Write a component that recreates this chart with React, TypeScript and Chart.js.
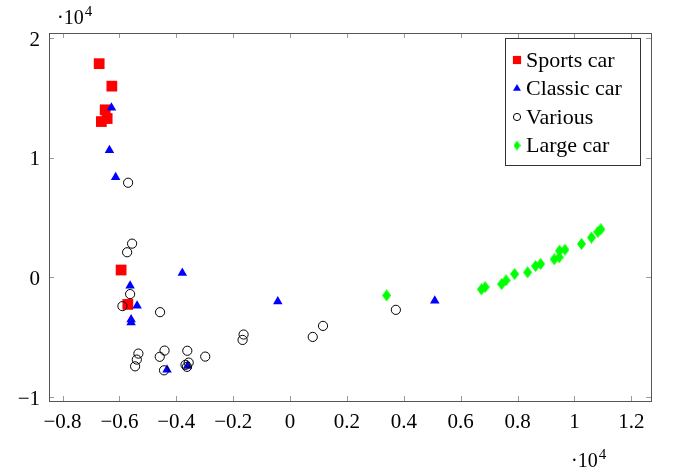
import React, { useEffect, useRef } from 'react';
import { Chart, registerables } from 'chart.js';
import { drawPoint } from 'chart.js/helpers';

Chart.register(...registerables);

// ---- data (values in raw units; axes show them ×10^4) ----
const sportsCar: [number, number][] = [
  [-6713, 17877], [-6267, 15998], [-6502, 14018], [-6432, 13288],
  [-6636, 13036], [-5941, 621], [-5706, -2257],
];
const classicCar: [number, number][] = [
  [-6281, 14186], [-6351, 10629], [-6134, 8381], [-3790, 369],
  [-5625, -696], [-5379, -2374], [-5590, -3515], [-5590, -3767],
  [-4327, -7726], [-3607, -7407], [-432, -2005], [5088, -1955],
];
const various: [number, number][] = [
  [-5695, 7919], [-5555, 2827], [-5730, 2106], [-5625, -1393],
  [-5895, -2399], [-4572, -2903], [-5334, -6367], [-5390, -6871],
  [-5450, -7433], [-4414, -6116], [-4583, -6636], [-4432, -7768],
  [-3614, -6132], [-3677, -7307], [-3565, -7122], [-3625, -7475],
  [-2983, -6619], [-1635, -4773], [-1670, -5226], [797, -4975],
  [1158, -4052], [3720, -2710],
];
const largeCar: [number, number][] = [
  [3393, -1502], [6727, -998], [6857, -805], [7439, -554],
  [7594, -243], [7895, 285], [8351, 428], [8632, 956],
  [8808, 1124], [9288, 1518], [9464, 1686], [9474, 2240],
  [9664, 2324], [10246, 2802], [10597, 3330], [10822, 3809],
  [10927, 4035],
];
const seriesNames = ['Sports car', 'Classic car', 'Various', 'Large car'];
const xTicks = [-8000, -6000, -4000, -2000, 0, 2000, 4000, 6000, 8000, 10000, 12000];
const yTicks = [-10000, 0, 10000, 20000];
const xRange = [-8477, 12691];
const yRange = [-10333, 20442];
const scaleExponent = '4';

const FONT = '"Liberation Serif", "Times New Roman", serif';

function fmt(v: number): string {
  const r = Math.round(v / 1000) / 10;
  if (r === 0) return '0';
  return String(r).replace('-', '\u2212');
}

function makeDiamond(w: number, h: number, color: string): HTMLCanvasElement {
  const c = document.createElement('canvas');
  c.width = w;
  c.height = h;
  const ctx = c.getContext('2d')!;
  ctx.fillStyle = color;
  ctx.beginPath();
  ctx.moveTo(w / 2, 0);
  ctx.lineTo(w, h / 2);
  ctx.lineTo(w / 2, h);
  ctx.lineTo(0, h / 2);
  ctx.closePath();
  ctx.fill();
  return c;
}

const framePlugin = {
  id: 'frameTicks',
  afterDatasetsDraw(chart: any) {
    const { ctx, chartArea } = chart;
    const { left, right, top, bottom } = chartArea;
    const xs = chart.scales.x;
    const ys = chart.scales.y;
    ctx.save();
    ctx.strokeStyle = '#9a9a9a';
    ctx.lineWidth = 1;
    const L = 5;
    ctx.beginPath();
    for (const v of xTicks) {
      const px = Math.round(xs.getPixelForValue(v)) + 0.5;
      ctx.moveTo(px, bottom);
      ctx.lineTo(px, bottom - L);
      ctx.moveTo(px, top);
      ctx.lineTo(px, top + L);
    }
    for (const v of yTicks) {
      const py = Math.round(ys.getPixelForValue(v)) + 0.5;
      ctx.moveTo(left, py);
      ctx.lineTo(left + L, py);
      ctx.moveTo(right, py);
      ctx.lineTo(right - L, py);
    }
    ctx.stroke();
    ctx.strokeStyle = '#555';
    ctx.lineWidth = 1;
    ctx.strokeRect(Math.round(left) + 0.5, Math.round(top) + 0.5, Math.round(right - left), Math.round(bottom - top));
    ctx.restore();
  },
};

function makeLegendPlugin(styles: any[]) {
  return {
    id: 'boxLegend',
    afterDraw(chart: any) {
      const { ctx } = chart;
      const bx = 505.5, by = 38.5, bw = 135, bh = 127;
      ctx.save();
      ctx.fillStyle = '#fff';
      ctx.fillRect(bx, by, bw, bh);
      ctx.strokeStyle = '#333';
      ctx.lineWidth = 1;
      ctx.strokeRect(bx, by, bw, bh);
      chart.data.datasets.forEach((ds: any, i: number) => {
        const cy = 60 + i * 28.5;
        const st = styles[i];
        ctx.fillStyle = ds.backgroundColor;
        ctx.strokeStyle = ds.borderColor || ds.backgroundColor;
        ctx.lineWidth = ds.borderWidth || 0;
        drawPoint(ctx, { pointStyle: st.pointStyle, radius: st.radius, rotation: 0, borderWidth: ds.borderWidth || 0 } as any, 517, cy);
        ctx.fillStyle = '#000';
        ctx.font = `22px ${FONT}`;
        ctx.textBaseline = 'middle';
        ctx.textAlign = 'left';
        ctx.fillText(ds.label, 526, cy + 1);
      });
      ctx.restore();
    },
  };
}

const exponentPlugin = {
  id: 'exponents',
  afterDraw(chart: any) {
    const { ctx } = chart;
    ctx.save();
    ctx.fillStyle = '#000';
    ctx.textBaseline = 'alphabetic';
    ctx.textAlign = 'left';
    const drawExp = (x: number, y: number) => {
      ctx.font = `20px ${FONT}`;
      const base = '\u00B710';
      ctx.fillText(base, x, y);
      const w = ctx.measureText(base).width;
      ctx.font = `15px ${FONT}`;
      ctx.fillText(scaleExponent, x + w + 1, y - 8);
    };
    drawExp(57, 24);
    drawExp(571, 467);
    ctx.restore();
  },
};

export default function App() {
  const ref = useRef<HTMLCanvasElement>(null);
  useEffect(() => {
    document.body.style.margin = '0';
    const diamond = makeDiamond(9, 12, '#00ff00');
    const diamondSmall = makeDiamond(7, 10, '#00ff00');
    const legendStyles = [
      { pointStyle: 'rect', radius: 5.8 },
      { pointStyle: 'triangle', radius: 4.6 },
      { pointStyle: 'circle', radius: 3.6 },
      { pointStyle: diamondSmall, radius: 4 },
    ];
    const toPts = (a: [number, number][]) => a.map(([x, y]) => ({ x, y }));
    const chart: any = new Chart(ref.current!, {
      type: 'scatter',
      data: {
        datasets: [
          {
            label: seriesNames[0], data: toPts(sportsCar), pointStyle: 'rect', pointRadius: 7.6,
            backgroundColor: '#ff0000', borderColor: '#ff0000', borderWidth: 0, order: 4,
          },
          {
            label: seriesNames[1], data: toPts(classicCar), pointStyle: 'triangle', pointRadius: 5.5,
            backgroundColor: '#0000ff', borderColor: '#0000ff', borderWidth: 0, order: 3,
          },
          {
            label: seriesNames[2], data: toPts(various), pointStyle: 'circle', pointRadius: 4.6,
            backgroundColor: 'rgba(0,0,0,0)', borderColor: '#000', borderWidth: 1, order: 2,
          },
          {
            label: seriesNames[3], data: toPts(largeCar), pointStyle: diamond as any, pointRadius: 5,
            backgroundColor: '#00ff00', borderColor: '#00ff00', borderWidth: 0, order: 1,
          },
        ] as any,
      },
      options: {
        animation: false,
        responsive: false,
        devicePixelRatio: 1,
        layout: { padding: { left: 0, top: 33, right: 25, bottom: 0 } },
        plugins: { legend: { display: false }, tooltip: { enabled: false }, title: { display: false } },
        scales: {
          x: {
            type: 'linear',
            min: xRange[0],
            max: xRange[1],
            afterBuildTicks: (s: any) => { s.ticks = xTicks.map((v) => ({ value: v })); },
            afterFit: (s: any) => { s.height = 73; },
            grid: { display: false, drawTicks: false },
            border: { display: false },
            ticks: {
              callback: (v: any) => fmt(Number(v)),
              font: { family: FONT, size: 21 },
              color: '#000',
              padding: 9,
              maxRotation: 0,
              autoSkip: false,
            },
          },
          y: {
            type: 'linear',
            min: yRange[0],
            max: yRange[1],
            afterBuildTicks: (s: any) => { s.ticks = yTicks.map((v) => ({ value: v })); },
            afterFit: (s: any) => { s.width = 49; },
            grid: { display: false, drawTicks: false },
            border: { display: false },
            ticks: {
              callback: (v: any) => fmt(Number(v)),
              font: { family: FONT, size: 21 },
              color: '#000',
              padding: 9,
              labelOffset: 2,
              autoSkip: false,
            },
          },
        },
      } as any,
      plugins: [framePlugin, makeLegendPlugin(legendStyles), exponentPlugin],
    });
    return () => chart.destroy();
  }, []);
  return (
    <div style={{ position: 'fixed', left: 0, top: 0, width: 676, height: 474, background: '#fff' }}>
      <canvas ref={ref} width={676} height={474} style={{ display: 'block', width: 676, height: 474 }} />
    </div>
  );
}
